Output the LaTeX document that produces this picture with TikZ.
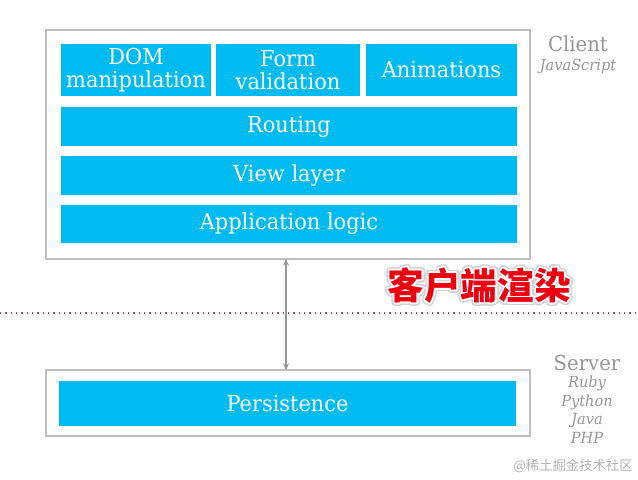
\documentclass[tikz,border=0pt]{standalone}
\usepackage{fontspec}
\setmainfont{DejaVu Serif}[FakeStretch=0.95]
\newfontfamily\cjk{Noto Sans CJK SC}
\usetikzlibrary{arrows.meta}
\definecolor{bl}{RGB}{0,187,240}
\definecolor{bord}{RGB}{190,190,190}
\definecolor{arr}{RGB}{150,150,150}
\definecolor{lab}{RGB}{150,150,150}
\definecolor{redd}{RGB}{215,60,80}
\definecolor{cnred}{RGB}{235,0,15}
\newcommand\fsz[1]{\fontsize{#1}{#1}\selectfont}
\tikzset{
  bluebox/.style={fill=bl, text=white, inner sep=0pt, font=\fsz{16.5pt}, align=center},
  outerbox/.style={draw=bord, line width=1.6pt, fill=none, inner sep=0pt},
  sidelab/.style={text=lab, font=\fsz{15.5pt}, inner sep=0pt},
  sidesub/.style={text=lab, font=\fsz{11.5pt}\itshape, inner sep=0pt},
  cnstyle/.style={text=cnred, font=\cjk\bfseries\fsz{27.5pt}, inner sep=0pt},
}
\begin{document}
\begin{tikzpicture}[x=0.75pt,y=-0.75pt]
\useasboundingbox (0,0) rectangle (638,479);
% client
\node[outerbox, minimum width=484*0.75pt, minimum height=229*0.75pt] (client) at (288,144.5) {};
\node[bluebox, minimum width=150*0.75pt, minimum height=52*0.75pt] (dom) at (136,70) {DOM\\[1pt]manipulation};
\node[bluebox, minimum width=144*0.75pt, minimum height=52*0.75pt] (form) at (288,70) {Form\\[1pt]validation};
\node[bluebox, minimum width=151*0.75pt, minimum height=52*0.75pt] (anim) at (441.5,70) {Animations};
\node[bluebox, minimum width=456*0.75pt, minimum height=39*0.75pt] (rout) at (289,126.5) {Routing};
\node[bluebox, minimum width=456*0.75pt, minimum height=39*0.75pt] (view) at (289,175.5) {View layer};
\node[bluebox, minimum width=456*0.75pt, minimum height=38*0.75pt] (app) at (289,224) {Application logic};
% server
\node[outerbox, minimum width=484*0.75pt, minimum height=66*0.75pt] (server) at (288,403) {};
\node[bluebox, minimum width=457*0.75pt, minimum height=45*0.75pt] (pers) at (287.5,403.5) {Persistence};
% arrow
\coordinate (atop) at (286,259);
\coordinate (abot) at (286,370);
\draw[arr, line width=1.1pt, {Stealth[length=5pt,width=4.5pt]}-{Stealth[length=5pt,width=4.5pt]}] (atop) -- (abot);
% dotted line
\coordinate (dl) at (0,313);
\coordinate (dr) at (638,313);
\draw[redd, line width=1pt, dash pattern=on 1pt off 3pt] (dl) -- (dr);
% labels
\node[sidelab] (cl) at (578,44) {Client};
\node[sidesub] (js) at (578,66) {JavaScript};
\node[sidelab] (sv) at (587,363) {Server};
\node[sidesub] (rb) at (587,383) {Ruby};
\node[sidesub] (py) at (587,402) {Python};
\node[sidesub] (jv) at (587,420) {Java};
\node[sidesub] (php) at (587,438) {PHP};
% chinese with white outline and soft shadow
\node[cnstyle] (cn) at (479,285) {\special{pdf:literal direct 1 Tr 0.82 0.82 0.82 RG 5 w 1 j}客户端渲染\special{pdf:literal direct 0 Tr}};
\node[cnstyle] (cnw) at (479,285) {\special{pdf:literal direct 1 Tr 1 1 1 RG 2.8 w 1 j}客户端渲染\special{pdf:literal direct 0 Tr}};
\node[cnstyle] (cnf) at (479,285) {客户端渲染};
\node[text=black!30, font=\cjk\fsz{10pt}, inner sep=0pt] (wm) at (573,466) {@稀土掘金技术社区};
\end{tikzpicture}
\end{document}
